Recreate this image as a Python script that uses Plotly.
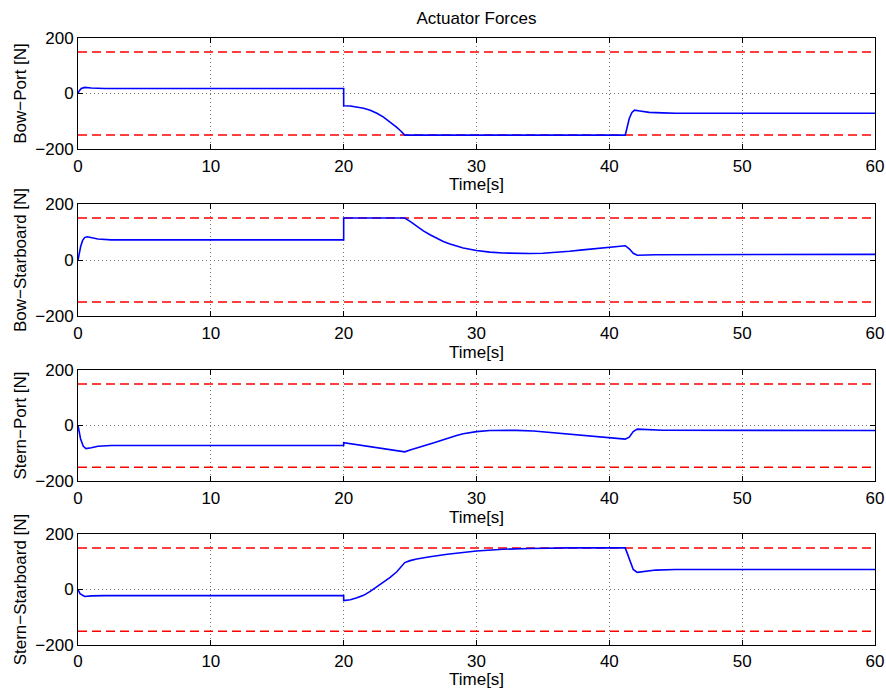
import plotly.graph_objects as go

# ---- data ----
t_bow_port = [0, 0.1, 0.25, 0.5, 1.0, 1.5, 2.0, 20, 20, 20.5, 21, 21.5, 22, 22.5, 23,
              23.5, 24, 24.3, 24.6, 41.2, 41.35, 41.5, 41.7, 41.9, 42.3, 43, 44, 45, 60]
f_bow_port = [0, 10, 18, 22, 20, 19, 18, 18, -44, -45, -48, -53, -60, -71, -85,
              -102, -122, -135, -150, -150, -120, -90, -68, -60, -63, -68, -70, -71, -71]

t_bow_stbd = [0, 0.1, 0.2, 0.35, 0.5, 0.7, 1.0, 1.5, 2.5, 20, 20, 24.6, 25.0, 25.5, 26,
              26.5, 27, 27.5, 28, 28.5, 29, 30, 31, 32, 33, 34, 35, 36, 37, 38, 39, 40,
              41.2, 41.5, 41.8, 42.1, 42.5, 43.5, 60]
f_bow_stbd = [0, 25, 48, 70, 80, 83, 80, 75, 72, 72, 150, 150, 138, 120, 104,
              90, 77, 66, 57, 49, 43, 34, 28, 25, 23, 23, 24, 27, 31, 36, 41, 46,
              51, 40, 24, 17, 17, 19, 20]

t_stern_port = [0, 0.1, 0.2, 0.4, 0.6, 1.0, 1.5, 2.5, 20, 20, 24.6, 25, 25.5, 26, 26.8,
                27.5, 28, 28.5, 29, 29.5, 30, 31, 32, 33, 34.3, 36.8, 39.3, 41.2,
                41.5, 41.8, 42.1, 42.5, 44, 60]
f_stern_port = [0, -28, -50, -75, -83, -80, -75, -72, -72, -62, -95, -88, -80, -73, -62,
                -51, -43, -36, -30, -25, -22, -18, -17, -17.5, -20, -30, -40, -49,
                -42, -22, -13, -14, -17, -18]

t_stern_stbd = [0, 0.15, 0.5, 1.0, 2.0, 20, 20, 20.5, 21, 21.5, 22, 22.5, 23, 23.5, 24,
                24.3, 24.6, 25, 25.5, 26.5, 27.8, 30, 32, 34, 37, 41.2, 41.4, 41.6,
                41.8, 42.1, 42.6, 43.5, 45, 60]
f_stern_stbd = [0, -15, -25, -23, -22, -22, -40, -37, -30, -21, -7, 9, 26, 44, 64,
                80, 97, 104, 110, 118, 127, 139, 145, 148, 150, 150, 125, 95,
                72, 62, 64, 70, 72, 72]

limit_t = [0, 60]
upper_limit = [150, 150]
lower_limit = [-150, -150]

series = [
    ("Bow−Port [N]", t_bow_port, f_bow_port),
    ("Bow−Starboard [N]", t_bow_stbd, f_bow_stbd),
    ("Stern−Port [N]", t_stern_port, f_stern_port),
    ("Stern−Starboard [N]", t_stern_stbd, f_stern_stbd),
]

x_ticks = [0, 10, 20, 30, 40, 50, 60]
y_ticks = [-200, 0, 200]
x_title = "Time[s]"

# ---- layout ----
H, W = 690, 886
ml, mr, mt, mb = 78, 11, 38, 45
ph = H - mt - mb
panel_px = [(38, 149), (204, 316), (370, 481), (534, 645)]
xtitle_offset = [36, 36, 36, 35]
label_standoff = [2, 2, 2, 1]

def to_paper(px):
    return (H - mb - px) / ph

font_family = "Liberation Sans, Arial, Helvetica, sans-serif"
FS = 17
fig = go.Figure()
annotations = []
layout = dict(
    width=W, height=H,
    margin=dict(l=ml, r=mr, t=mt, b=mb),
    paper_bgcolor="white", plot_bgcolor="white",
    showlegend=False,
    font=dict(family=font_family, size=FS, color="black"),
    title=dict(text="Actuator Forces", x=(ml + (W - mr)) / 2 / W, xanchor="center",
               y=1 - 18 / H, yanchor="middle", font=dict(size=FS)),
)

for i, (label, t, f) in enumerate(series):
    n = i + 1
    xa = "x" if n == 1 else f"x{n}"
    ya = "y" if n == 1 else f"y{n}"
    fig.add_trace(go.Scatter(x=limit_t, y=upper_limit, mode="lines", xaxis=xa, yaxis=ya,
                             line=dict(color="#ff0000", width=1.5, dash="9px,5px")))
    fig.add_trace(go.Scatter(x=limit_t, y=lower_limit, mode="lines", xaxis=xa, yaxis=ya,
                             line=dict(color="#ff0000", width=1.5, dash="9px,5px")))
    fig.add_trace(go.Scatter(x=t, y=f, mode="lines", xaxis=xa, yaxis=ya,
                             line=dict(color="#0000ff", width=1.6)))
    top, bot = panel_px[i]
    common = dict(showline=True, linecolor="black", linewidth=1, mirror="ticks",
                  ticks="inside", ticklen=5, tickcolor="black", automargin=False,
                  showgrid=True, gridcolor="#777777", griddash="1px,3px", gridwidth=1,
                  zeroline=False, tickfont=dict(size=FS))
    layout["xaxis" if n == 1 else f"xaxis{n}"] = dict(
        common, domain=[0, 1], range=[0, 60], tickvals=x_ticks, anchor=ya,
        ticklabelstandoff=label_standoff[i])
    layout["yaxis" if n == 1 else f"yaxis{n}"] = dict(
        common, domain=[to_paper(bot), to_paper(top)], range=[-200, 200], tickvals=y_ticks,
        anchor=xa,
        title=dict(text=label, standoff=4, font=dict(size=FS)))
    annotations.append(dict(text=x_title, xref="paper", yref="paper", x=0.5,
                            y=to_paper(bot + xtitle_offset[i]), xanchor="center",
                            yanchor="middle", showarrow=False, font=dict(size=FS)))

layout["annotations"] = annotations
fig.update_layout(**layout)
fig.write_html("out.html")
